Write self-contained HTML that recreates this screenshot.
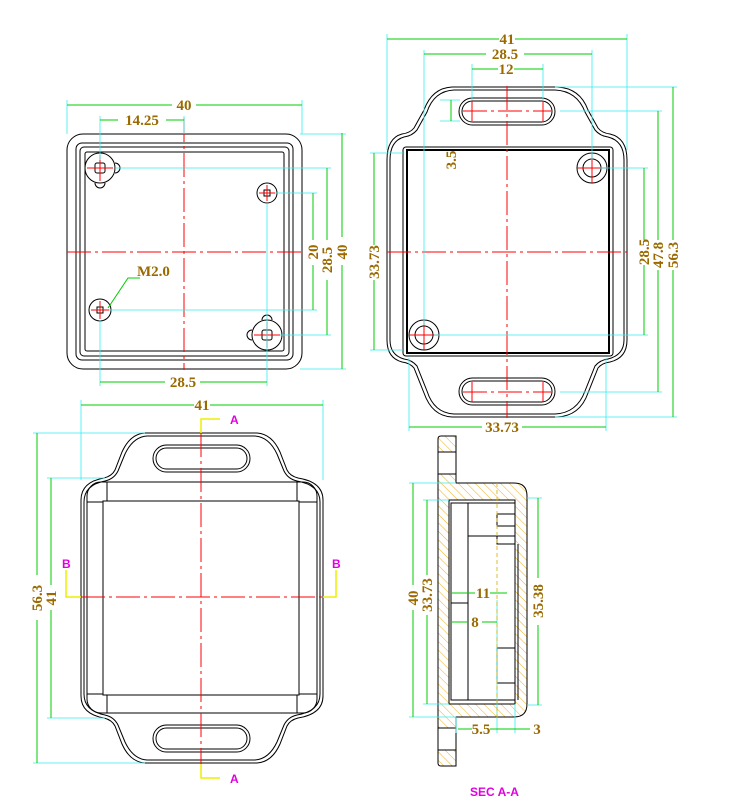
<!DOCTYPE html>
<html><head><meta charset="utf-8"><style>
html,body{margin:0;padding:0;background:#fff}
svg{display:block}
text{font-family:"Liberation Serif",serif;fill:#9a6a00;font-size:15px;font-weight:bold}
.m{fill:#e000e0;font-family:"Liberation Sans",sans-serif;font-size:12px;font-weight:bold}
</style></head><body>
<svg width="750" height="808" viewBox="0 0 750 808" xmlns="http://www.w3.org/2000/svg">
<defs>
<pattern id="h" width="6" height="6" patternUnits="userSpaceOnUse" patternTransform="rotate(-45)">
<rect width="6" height="6" fill="#fff"/><line x1="0" y1="0" x2="0" y2="6" stroke="#f0b020" stroke-width="1"/>
</pattern>
</defs>
<g fill="none" stroke="#000" stroke-width="1">
<rect x="67" y="134" width="235" height="235" rx="16"/>
<rect x="76" y="143" width="217" height="217" rx="6"/>
<rect x="80" y="147" width="209" height="209" rx="4"/>
<rect x="85" y="152" width="199" height="199" rx="2"/>
<circle cx="100" cy="168" r="15"/><rect x="95" y="163" width="10" height="10" rx="2"/>
<path d="M115 163 a5 5 0 0 1 0 10 M95 183 a5 5 0 0 0 10 0"/>
<circle cx="267" cy="193" r="10"/><rect x="264" y="190" width="6" height="6"/>
<circle cx="100" cy="310" r="11"/><rect x="97" y="307" width="6" height="6"/>
<circle cx="267" cy="335" r="15"/><rect x="262" y="330" width="10" height="10" rx="2"/>
<path d="M252 330 a5 5 0 0 0 0 10 M262 320 a5 5 0 0 1 10 0"/>
<path d="M452 87 H557 Q580 88 588 110 L598 128 Q602 133 610 134 Q627 138 627 160 V340 Q627 358 610 362 Q602 363 598 368 L588 393 Q580 416 557 417 H452 Q432 416 424 393 L414 368 Q410 363 402 362 Q387 358 387 340 V160 Q387 138 402 134 Q410 133 414 128 L424 110 Q432 88 452 87 Z"/>
<path d="M454 90 H555 Q577 91 585 112 L595 130 Q600 136 608 137 Q624 141 624 160 V340 Q624 355 608 359 Q600 360 595 366 L585 391 Q577 413 555 414 H454 Q434 413 427 391 L417 366 Q412 360 404 359 Q390 355 390 340 V160 Q390 141 404 137 Q412 136 417 130 L427 112 Q434 91 454 90 Z"/>
<rect x="403" y="147" width="210" height="209" rx="3"/>
<rect x="407" y="150" width="202" height="203" stroke-width="2"/>
<rect x="459" y="98" width="96" height="27" rx="13.5"/><rect x="462" y="101" width="90" height="21" rx="10.5"/>
<rect x="459" y="378" width="96" height="27" rx="13.5"/><rect x="462" y="381" width="90" height="21" rx="10.5"/>
<circle cx="592" cy="168" r="15"/><circle cx="592" cy="168" r="9"/>
<circle cx="424" cy="335" r="15"/><circle cx="424" cy="335" r="9"/>
<path d="M145 433 H257 Q272 434 280 452 L287 470 Q290 476 298 478 Q323 482 323 500 V696 Q323 714 298 718 Q290 720 287 726 L280 744 Q272 762 257 763 H145 Q130 762 122 744 L115 726 Q112 720 104 718 Q81 714 81 696 V500 Q81 482 104 478 Q112 476 115 470 L122 452 Q130 434 145 433 Z"/>
<path d="M147 436 H255 Q269 437 277 454 L284 471 Q288 479 297 481 Q320 485 320 502 V694 Q320 711 297 715 Q288 717 284 725 L277 742 Q269 759 255 760 H147 Q133 759 125 742 L118 725 Q114 717 105 715 Q84 711 84 694 V502 Q84 485 105 481 Q114 479 118 471 L125 454 Q133 437 147 436 Z"/>
<rect x="87" y="482" width="230" height="231" rx="14"/>
<rect x="103" y="501" width="196" height="194"/>
<path d="M107 482 V501 M297 482 V501 M107 713 V695 M297 713 V695 M87 502 H103 M317 502 H299 M87 694 H103 M317 694 H299"/>
<rect x="153" y="445" width="97" height="27" rx="13.5"/><rect x="156" y="448" width="91" height="21" rx="10.5"/>
<rect x="153" y="725" width="97" height="27" rx="13.5"/><rect x="156" y="728" width="91" height="21" rx="10.5"/>
<path d="M441 436 H456 V483 H514 Q527 483 527 496 V704 Q527 717 514 717 H456 V766 H441 Q438 766 438 763 V439 Q438 436 441 436 Z" fill="url(#h)"/>
<rect x="449" y="500" width="66" height="204" fill="#fff"/>
<rect x="438" y="452" width="18" height="22" fill="#fff"/>
<rect x="438" y="728" width="18" height="22" fill="#fff"/>
<rect x="451" y="503" width="17" height="100"/>
<rect x="451" y="603" width="17" height="97"/>
<rect x="468" y="503" width="47" height="33"/>
<rect x="497" y="514" width="18" height="12"/>
<rect x="497" y="536" width="18" height="8"/>
<rect x="497" y="648" width="18" height="35"/>
<line x1="518" y1="544" x2="518" y2="700"/>
<line x1="451" y1="700" x2="515" y2="700"/>
</g>
<g stroke="#f00" stroke-width="1" stroke-dasharray="24,4,3,4" fill="none">
<line x1="184" y1="118" x2="184" y2="370"/><line x1="67" y1="252" x2="302" y2="252"/>
<line x1="507" y1="86" x2="507" y2="418"/><line x1="387" y1="252" x2="627" y2="252"/>
<line x1="463" y1="111" x2="551" y2="111"/><line x1="463" y1="392" x2="551" y2="392"/>
<line x1="201" y1="433" x2="201" y2="764"/><line x1="81" y1="597" x2="323" y2="597"/>
</g>
<g stroke="#f00" stroke-width="1">
<path d="M87 168H113M100 155V181M259 193H275M267 185V201M91 310H109M100 301V319M254 335H280M267 322V348"/>
<path d="M577 168H607M592 153V183M409 335H439M424 320V350"/>
<path d="M472 101V121M543 101V121M472 382V402M543 382V402"/>
</g>
<g stroke="#3ee" stroke-width="0.8" fill="none">
<path d="M67 100V134M302 100V134M100 116V160M184 116V134M300 134H346M300 369H346M115 168H331M275 193H317M109 310H317M280 335H331M100 320V386M267 203V386"/>
<path d="M387 34V150M627 34V150M424 50V325M592 50V160M472 64V100M543 64V100M440 100H460M440 121H460M370 153H403M370 350H403M555 87H677M560 111H662M600 168H648M434 335H648M560 392H662M555 417H677M409 358V431M606 358V431"/>
<path d="M81 400V480M323 400V480M33 433H145M47 478H105M33 763H145M47 718H105"/>
<path d="M409 483H456M423 500H449M409 717H456M423 704H449M527 498H542M527 705H542M456 717V733M497 600V733M515 704V733"/>
</g>
<g stroke="#0c0" stroke-width="1" fill="none">
<path d="M67 105H172M196 105H302M100 120H118M166 120H184M313 193V240M313 265V310M327 168V240M327 280V335M342 133V237M342 265V369M100 382H165M200 382H267"/>
<path d="M108 308L128 278H140"/>
<path d="M387 39H499M515 39H627M424 54H486M524 54H592M472 69H498M514 69H543M451 100V121M374 153V245M374 280V350M644 168V240M644 265V335M658 111V240M658 270V392M673 87V240M673 270V417M409 427H482M522 427H606"/>
<path d="M81 405H194M210 405H323M37 433V575M37 620V763M51 478V585M51 610V718"/>
<path d="M413 483V585M413 610V717M427 500V575M427 615V704M538 498V578M538 625V705M452 593H475M490 593H507M452 622H468M482 622H497M458 729H472M490 729H515M515 729H530"/>
</g>
<g stroke="#ee0" stroke-width="1.5" fill="none">
<path d="M201 433V419H220M201 764V778H220M66 570V597H81M336 570V597H323"/>
</g>
<g stroke="#da0" stroke-width="0.8" stroke-dasharray="4,3"><line x1="497" y1="483" x2="497" y2="717"/></g>
<text x="184" y="110" text-anchor="middle">40</text>
<text x="142" y="125" text-anchor="middle">14.25</text>
<text x="137" y="276" font-size="13">M2.0</text>
<text x="183" y="387" text-anchor="middle">28.5</text>
<text transform="translate(318,252) rotate(-90)" text-anchor="middle">20</text>
<text transform="translate(332,260) rotate(-90)" text-anchor="middle">28.5</text>
<text transform="translate(347,252) rotate(-90)" text-anchor="middle">40</text>
<text x="507" y="44" text-anchor="middle">41</text>
<text x="505" y="59" text-anchor="middle">28.5</text>
<text x="506" y="74" text-anchor="middle">12</text>
<text transform="translate(456,160) rotate(-90)" text-anchor="middle">3.5</text>
<text transform="translate(379,262) rotate(-90)" text-anchor="middle">33.73</text>
<text transform="translate(649,252) rotate(-90)" text-anchor="middle">28.5</text>
<text transform="translate(663,255) rotate(-90)" text-anchor="middle">47.8</text>
<text transform="translate(678,255) rotate(-90)" text-anchor="middle">56.3</text>
<text x="502" y="432" text-anchor="middle">33.73</text>
<text x="202" y="410" text-anchor="middle">41</text>
<text transform="translate(42,598) rotate(-90)" text-anchor="middle">56.3</text>
<text transform="translate(56,598) rotate(-90)" text-anchor="middle">41</text>
<text transform="translate(418,598) rotate(-90)" text-anchor="middle">40</text>
<text transform="translate(432,595) rotate(-90)" text-anchor="middle">33.73</text>
<text transform="translate(543,601) rotate(-90)" text-anchor="middle">35.38</text>
<text x="483" y="598" text-anchor="middle">11</text>
<text x="475" y="627" text-anchor="middle">8</text>
<text x="481" y="734" text-anchor="middle">5.5</text>
<text x="537" y="734" text-anchor="middle">3</text>
<text class="m" x="230" y="424">A</text>
<text class="m" x="230" y="783">A</text>
<text class="m" x="62" y="568">B</text>
<text class="m" x="332" y="568">B</text>
<text class="m" x="470" y="796">SEC A-A</text>
</svg>
</body></html>
